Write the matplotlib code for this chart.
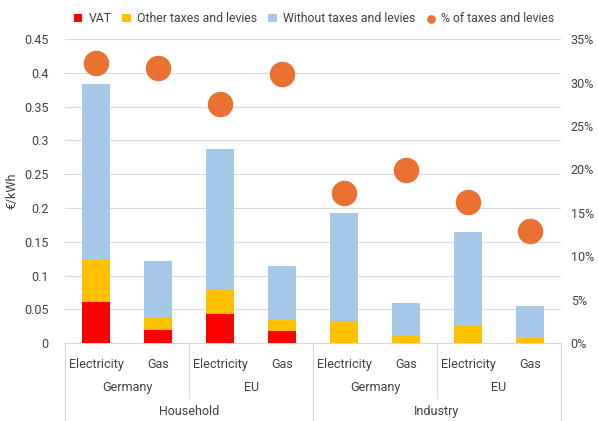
import numpy as np
import matplotlib
matplotlib.use("Agg")
import matplotlib.pyplot as plt
import matplotlib.transforms as mtransforms
from matplotlib.ticker import FuncFormatter

plt.rcParams['font.family'] = ['Roboto', 'DejaVu Sans']

fuels = ["Electricity", "Gas"] * 4
regions = ["Germany", "EU", "Germany", "EU"]
sectors = ["Household", "Industry"]

vat = [0.061, 0.020, 0.043, 0.018, 0.0, 0.0, 0.0, 0.0]
other_taxes = [0.062, 0.018, 0.036, 0.017, 0.033, 0.012, 0.027, 0.007]
without_taxes = [0.260, 0.083, 0.208, 0.079, 0.160, 0.047, 0.137, 0.048]
pct_taxes = [0.322, 0.317, 0.275, 0.310, 0.173, 0.199, 0.162, 0.129]

c_vat = "#FF0000"
c_other = "#FFC000"
c_without = "#A5C8E8"
c_pct = "#E97132"

fig = plt.figure(figsize=(5.98, 4.21), dpi=100)
ax = fig.add_axes([0.109, 0.185, 0.829, 0.722])
ax2 = ax.twinx()

x = np.arange(len(fuels))
w = 0.45
vat = np.array(vat)
other_taxes = np.array(other_taxes)
without_taxes = np.array(without_taxes)

ax.bar(x, vat, w, color=c_vat, label="VAT", zorder=3)
ax.bar(x, other_taxes, w, bottom=vat, color=c_other, label="Other taxes and levies", zorder=3)
ax.bar(x, without_taxes, w, bottom=vat + other_taxes, color=c_without,
       label="Without taxes and levies", zorder=3)
ax2.scatter(x, pct_taxes, s=300, color=c_pct, label="% of taxes and levies", zorder=4)

ax.set_xlim(-0.5, len(fuels) - 0.5)
ax.set_ylim(0, 0.45)
ax.set_yticks(np.arange(0, 0.451, 0.05))
ax.yaxis.set_major_formatter(FuncFormatter(lambda v, p: "0" if v == 0 else f"{v:.2f}".rstrip("0")))
ax2.set_ylim(0, 0.35)
ax2.set_yticks(np.arange(0, 0.351, 0.05))
ax2.yaxis.set_major_formatter(FuncFormatter(lambda v, p: f"{v * 100:.0f}%"))

ax.grid(axis="y", color="#D9D9D9", linewidth=0.8, zorder=0)
for a in (ax, ax2):
    for s in a.spines.values():
        s.set_visible(False)
    a.tick_params(length=0, labelsize=9, colors="#404040")
ax.tick_params(axis="y", pad=12)
ax2.tick_params(axis="y", pad=7)
ax.set_xticks([])
ax.set_ylabel("€/kWh", fontsize=9, color="#404040", labelpad=4)

# category axis with three levels
tr = mtransforms.blended_transform_factory(ax.transData, ax.transAxes)
line_kw = dict(color="#D9D9D9", linewidth=0.8, transform=tr, clip_on=False)
ax.plot([-0.5, len(fuels) - 0.5], [0, 0], **line_kw)
for i, f in enumerate(fuels):
    ax.text(i, -0.07, f, transform=tr, ha="center", va="center", fontsize=9, color="#404040")
for j, r in enumerate(regions):
    ax.text(2 * j + 0.5, -0.145, r, transform=tr, ha="center", va="center", fontsize=9, color="#404040")
for k, s in enumerate(sectors):
    ax.text(4 * k + 1.5, -0.225, s, transform=tr, ha="center", va="center", fontsize=9, color="#404040")
for b in [1.5, 5.5]:
    ax.plot([b, b], [0, -0.18], **line_kw)
for b in [-0.5, 3.5, 7.5]:
    ax.plot([b, b], [0, -0.26], **line_kw)

h1, l1 = ax.get_legend_handles_labels()
h2, l2 = ax2.get_legend_handles_labels()
leg = fig.legend(h1 + h2, l1 + l2, loc="center", bbox_to_anchor=(0.525, 0.955), ncol=4,
                 frameon=False, fontsize=8.8, handlelength=0.7, handleheight=0.7,
                 handletextpad=0.5, columnspacing=0.9, markerscale=0.3)
for t in leg.get_texts():
    t.set_color("#404040")

fig.savefig("out.png", dpi=100)
